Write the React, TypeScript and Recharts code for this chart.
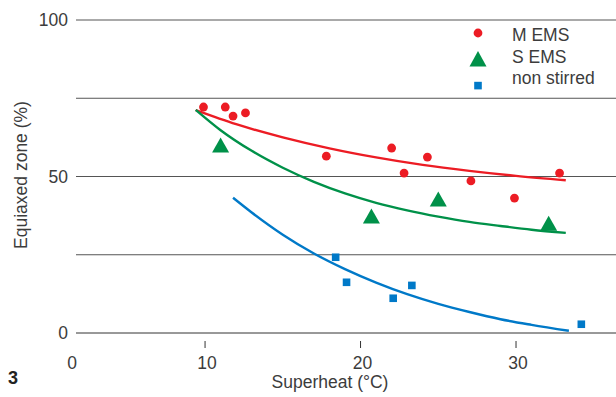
import {
  ComposedChart,
  Line,
  ReferenceLine,
  Scatter,
  XAxis,
  YAxis
} from "recharts";

// measured points
const mEmsX = [9.9, 11.3, 11.8, 12.6, 17.8, 22.0, 22.8, 24.3, 27.1, 29.9, 32.8];
const mEmsY = [72.2, 72.2, 69.3, 70.3, 56.5, 59.1, 51.1, 56.2, 48.6, 43.1, 51.1];
const sEmsX = [11.0, 20.7, 25.0, 32.1];
const sEmsY = [60.1, 37.4, 42.8, 35.1];
const nonX = [18.4, 19.1, 22.1, 23.3, 34.2];
const nonY = [24.2, 16.2, 11.1, 15.2, 2.8];

// trend curves
const mFitX = [9.4, 12, 15, 18, 21, 24, 27, 30, 33.2];
const mFitY = [71.2, 66.7, 62.5, 59.0, 56.1, 53.7, 51.8, 50.2, 48.8];
const sFitX = [9.4, 11, 13, 15, 17, 19, 21, 23, 25, 27, 29, 31, 33.2];
const sFitY = [71.3, 64.8, 58.2, 52.8, 48.3, 44.6, 41.6, 39.2, 37.2, 35.5, 34.2, 33.0, 32.0];
const nFitX = [11.8, 13, 15, 17, 19, 21, 23, 25, 27, 29, 31, 33.4];
const nFitY = [43.2, 38.5, 31.4, 25.4, 20.4, 16.1, 12.4, 9.3, 6.7, 4.4, 2.6, 0.7];

const xTicks = [1.7, 10, 20, 30];
const xTickLabels = ["0", "10", "20", "30"];
const yTicks = [0, 50, 100];
const gridValues = [0, 25, 50, 75, 100];
const legendLabels = ["M EMS", "S EMS", "non stirred"];

const RED = "#ec1c24";
const GREEN = "#009149";
const BLUE = "#0079c8";
const TEXT = "#3c3c3c";
const FONT = "'Liberation Sans', Arial, sans-serif";

const zip = (xs: number[], ys: number[]) => xs.map((x, i) => ({ x, y: ys[i] }));

const mEms = zip(mEmsX, mEmsY);
const sEms = zip(sEmsX, sEmsY);
const non = zip(nonX, nonY);
const mFit = zip(mFitX, mFitY);
const sFit = zip(sFitX, sFitY);
const nFit = zip(nFitX, nFitY);

const Triangle = (props: any) => {
  const { cx, cy } = props;
  return (
    <polygon
      points={`${cx},${cy - 7.5} ${cx - 8.5},${cy + 7.5} ${cx + 8.5},${cy + 7.5}`}
      fill={GREEN}
    />
  );
};

const Square = (props: any) => {
  const { cx, cy } = props;
  return <rect x={cx - 3.8} y={cy - 3.8} width={7.6} height={7.6} fill={BLUE} />;
};

const Dot = (props: any) => {
  const { cx, cy } = props;
  return <circle cx={cx} cy={cy} r={4.4} fill={RED} />;
};

const XTick = (props: any) => {
  const { x, y, index } = props;
  return (
    <g>
      {index > 0 && <line x1={x} y1={y} x2={x} y2={y + 7} stroke="#333" strokeWidth={1} />}
      <text
        x={index === 0 ? x - 4 : x + 2}
        y={y + 28}
        textAnchor="middle"
        fontSize={17.5}
        fontFamily={FONT}
        fill={TEXT}
      >
        {xTickLabels[index]}
      </text>
    </g>
  );
};

const YTick = (props: any) => {
  const { y, payload } = props;
  return (
    <text
      x={68}
      y={y + 6}
      textAnchor="end"
      fontSize={17.5}
      fontFamily={FONT}
      fill={TEXT}
    >
      {payload.value}
    </text>
  );
};

const LegendBox = () => (
  <svg width={150} height={80} style={{ position: "absolute", left: 468, top: 22 }}>
    <circle cx={10} cy={11} r={4.4} fill={RED} />
    <polygon points="10,29 1.5,44.5 18.5,44.5" fill={GREEN} />
    <rect x={6.2} y={59.8} width={7.6} height={7.6} fill={BLUE} />
    {legendLabels.map((l, i) => (
      <text
        key={l}
        x={44}
        y={19 + i * 21.5}
        fontSize={17.5}
        fontFamily={FONT}
        fill={TEXT}
      >
        {l}
      </text>
    ))}
  </svg>
);

export default function App() {
  return (
    <div style={{ position: "absolute", left: 0, top: 0, width: 616, height: 397, background: "#fff" }}>
      <ComposedChart width={616} height={397} margin={{ top: 20, right: 0, bottom: 0, left: 0 }}>
        <XAxis
          type="number"
          dataKey="x"
          domain={[1.7, 36.43]}
          ticks={xTicks}
          tick={<XTick />}
          tickLine={false}
          axisLine={false}
          height={64}
          allowDataOverflow
        />
        <YAxis
          type="number"
          dataKey="y"
          domain={[0, 100]}
          ticks={yTicks}
          tick={<YTick />}
          tickLine={false}
          axisLine={false}
          width={76}
          label={{
            content: () => (
              <text
                x={0}
                y={0}
                transform="translate(27,175) rotate(-90)"
                textAnchor="middle"
                fontSize={17.5}
                fontFamily={FONT}
                fill={TEXT}
              >
                Equiaxed zone (%)
              </text>
            )
          }}
        />
        {gridValues.map((v) => (
          <ReferenceLine key={v} y={v} stroke={v === 0 ? "#333" : "#555"} strokeWidth={1} ifOverflow="extendDomain" />
        ))}
        <Line data={mFit} dataKey="y" type="monotone" stroke={RED} strokeWidth={2.4} dot={false} isAnimationActive={false} />
        <Line data={sFit} dataKey="y" type="monotone" stroke={GREEN} strokeWidth={2.4} dot={false} isAnimationActive={false} />
        <Line data={nFit} dataKey="y" type="monotone" stroke={BLUE} strokeWidth={2.4} dot={false} isAnimationActive={false} />
        <Scatter data={mEms} dataKey="y" shape={<Dot />} isAnimationActive={false} />
        <Scatter data={sEms} dataKey="y" shape={<Triangle />} isAnimationActive={false} />
        <Scatter data={non} dataKey="y" shape={<Square />} isAnimationActive={false} />
      </ComposedChart>
      <LegendBox />
      <div
        style={{
          position: "absolute",
          left: 0,
          top: 372,
          width: 616,
          textAlign: "center",
          fontFamily: FONT,
          fontSize: 17.5,
          color: TEXT,
          paddingLeft: 44,
          boxSizing: "border-box"
        }}
      >
        Superheat (°C)
      </div>
      <div
        style={{
          position: "absolute",
          left: 8,
          top: 368,
          fontFamily: FONT,
          fontSize: 18,
          fontWeight: "bold",
          color: "#222"
        }}
      >
        3
      </div>
    </div>
  );
}
